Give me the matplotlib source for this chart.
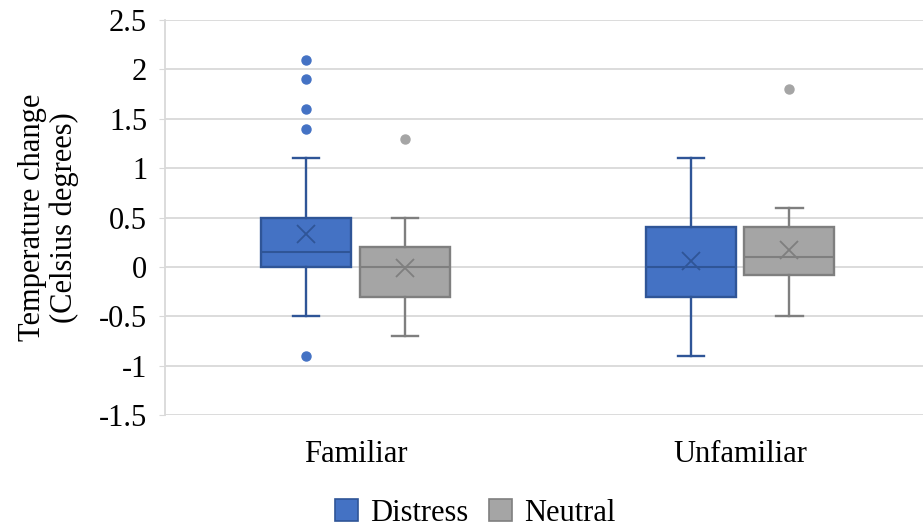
import matplotlib
matplotlib.use("Agg")
import numpy as np
from matplotlib import pyplot as plt
from matplotlib.patches import Patch

plt.rcParams['font.family'] = ['Liberation Serif', 'DejaVu Serif']

categories = ['Familiar', 'Unfamiliar']
groups = ['Distress', 'Neutral']

# box statistics per category, one entry per group (Distress, Neutral)
whislo = [[-0.5, -0.7], [-0.9, -0.5]]
q1 = [[0.0, -0.3], [-0.3, -0.08]]
med = [[0.15, 0.0], [0.0, 0.1]]
q3 = [[0.5, 0.2], [0.4, 0.4]]
whishi = [[1.1, 0.5], [1.1, 0.6]]
means = [[0.33, -0.01], [0.06, 0.17]]
fliers = [[[2.1, 1.9, 1.6, 1.4, -0.9], [1.3]], [[], [1.8]]]

fills = ['#4472C4', '#A5A5A5']
edges = ['#2F5597', '#7F7F7F']

yticks = [-1.5, -1, -0.5, 0, 0.5, 1, 1.5, 2, 2.5]

fig = plt.figure(figsize=(9.23, 5.28), dpi=100)
ax = fig.add_axes([0.179, 0.214, 0.821, 0.748])

offset = 0.128
width = 0.234
for g in range(2):
    stats = []
    for c in range(2):
        stats.append(dict(whislo=whislo[c][g], q1=q1[c][g], med=med[c][g],
                          q3=q3[c][g], whishi=whishi[c][g], mean=means[c][g],
                          fliers=fliers[c][g]))
    pos = [c + (-offset if g == 0 else offset) for c in range(2)]
    ec = edges[g]
    ax.bxp(stats, positions=pos, widths=width, capwidths=0.068,
           showmeans=True, patch_artist=True,
           boxprops=dict(facecolor=fills[g], edgecolor=ec, linewidth=1.7),
           whiskerprops=dict(color=ec, linewidth=1.7),
           capprops=dict(color=ec, linewidth=1.7),
           medianprops=dict(color=ec, linewidth=1.5),
           meanprops=dict(marker='x', markeredgecolor=ec, markersize=13,
                          markeredgewidth=1.3),
           flierprops=dict(marker='o', markerfacecolor=fills[g],
                           markeredgecolor=fills[g], markersize=6.5))

ax.set_xlim(-0.494, 1.475)
ax.set_ylim(-1.5, 2.5)
ax.set_yticks(yticks)
ax.set_yticklabels([('%g' % v) for v in yticks], fontsize=22)
ax.set_xticks([0, 1])
ax.set_xticklabels(categories, fontsize=22)
ax.tick_params(axis='x', length=0, pad=18)
ax.tick_params(axis='y', length=4, color='#D9D9D9', pad=9)
ax.grid(axis='y', color='#D9D9D9', linewidth=1.3)
ax.set_axisbelow(True)
for s in ['top', 'right', 'bottom']:
    ax.spines[s].set_visible(False)
ax.spines['left'].set_color('#D9D9D9')
ax.spines['left'].set_linewidth(1.3)

ax.set_ylabel('Temperature change\n(Celsius degrees)', fontsize=22,
              linespacing=1.15, labelpad=14)

handles = [Patch(facecolor=fills[i], edgecolor=edges[i], linewidth=1.2)
           for i in range(2)]
fig.legend(handles, groups, loc='center', bbox_to_anchor=(0.515, 0.028),
           ncol=2, frameon=False, fontsize=22, handlelength=0.75,
           handleheight=0.75, handletextpad=0.4, columnspacing=0.7,
           borderpad=0)

fig.savefig('out.png', dpi=100)
